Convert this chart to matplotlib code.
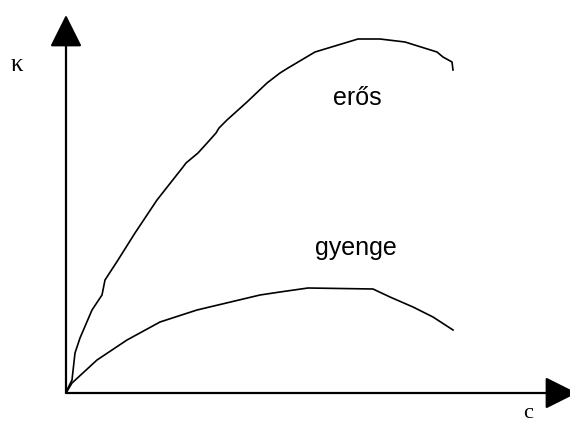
import matplotlib

matplotlib.use("Agg")
import matplotlib.pyplot as plt

# erős (strong) curve, c vs kappa (pixel-like units, origin at axes corner)
strong_c = [0, 1, 6, 9, 14, 26, 36, 39, 52, 69, 91, 117, 120, 132, 142, 150, 153, 161,
            181, 201, 214, 222, 249, 292, 314, 339, 371, 377, 386, 387]
strong_k = [0, 3, 13, 40, 55, 83, 98, 113, 133, 160, 193, 226, 230, 240, 251, 260, 265, 273,
            291, 310, 320, 325, 341, 354, 354, 351, 341, 336, 331, 323]

# gyenge (weak) curve
weak_c = [0, 6, 31, 61, 94, 131, 194, 214, 242, 307, 324, 347, 367, 387]
weak_k = [0, 10, 33, 53, 71, 83, 98, 101, 105, 104, 96, 86, 76, 63]

fig = plt.figure(figsize=(5.7, 4.25), dpi=100)
ax = fig.add_axes([0, 0, 1, 1])
ax.set_xlim(-66, 504)
ax.set_ylim(-32, 393)
ax.axis("off")

# axes with arrows
arrow = dict(arrowstyle="-|>,head_length=1.0,head_width=0.5",
             mutation_scale=20, lw=1.6, color="black", shrinkA=0, shrinkB=0)
ax.annotate("", xy=(0, 378), xytext=(0, 0), arrowprops=arrow, annotation_clip=False)
ax.annotate("", xy=(511, 0), xytext=(0, 0), arrowprops=arrow, annotation_clip=False)

ax.plot(strong_c, strong_k, color="black", lw=1.2)
ax.plot(weak_c, weak_k, color="black", lw=1.2)

ax.text(-49, 328, "κ", fontsize=18, family="Liberation Serif", ha="center", va="center")
ax.text(462, -25, "c", fontsize=16, family="Liberation Serif", ha="center", va="baseline")
ax.text(291, 288, "erős", fontsize=18, family="Liberation Sans", ha="center", va="baseline")
ax.text(290, 138, "gyenge", fontsize=18, family="Liberation Sans", ha="center", va="baseline")

fig.savefig("out.png", dpi=100)
plt.close(fig)
